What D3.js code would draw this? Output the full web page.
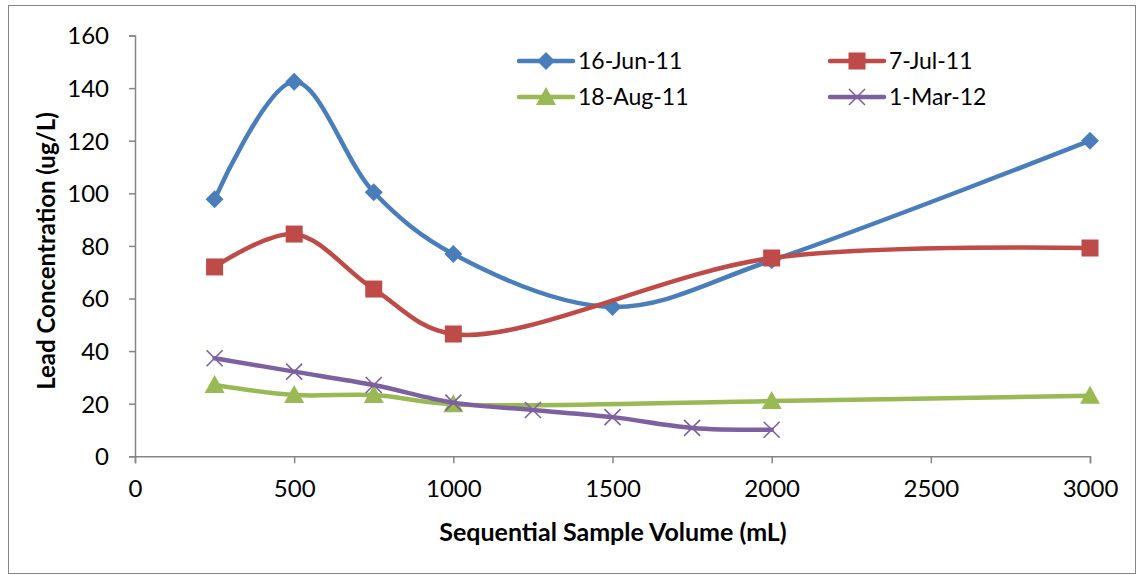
<!DOCTYPE html>
<html>
<head>
<meta charset="utf-8">
<script src="https://cdn.jsdelivr.net/npm/d3@7"></script>
<style>
  body { margin: 0; background: #fff; }
  text { font-family: Lato, "Open Sans", sans-serif; fill: #000; }
</style>
</head>
<body>
<script>
var w = 1138;
var h = 575;

// data
var seriesNames = ["16-Jun-11", "7-Jul-11", "18-Aug-11", "1-Mar-12"];
var junX = [250, 500, 750, 1000, 1500, 2000, 3000];
var junY = [97.7, 142.4, 100.4, 76.9, 56.8, 74.5, 120];
var julX = [250, 500, 750, 1000, 2000, 3000];
var julY = [72, 84.5, 63.6, 46.5, 75.4, 79.2];
var augX = [250, 500, 750, 1000, 2000, 3000];
var augY = [27.1, 23.3, 23.3, 19.8, 21, 23];
var marX = [250, 500, 750, 1000, 1250, 1500, 1750, 2000];
var marY = [37.3, 32.2, 27.1, 20.4, 17.6, 14.9, 10.8, 10.1];
var xTicks = [0, 500, 1000, 1500, 2000, 2500, 3000];
var yTicks = [0, 20, 40, 60, 80, 100, 120, 140, 160];

var colors = ["#4a7ebb", "#be4b48", "#98b954", "#7d60a0"];
var markers = ["diamond", "square", "triangle", "cross"];

var series = [
  { name: seriesNames[0], xs: junX, ys: junY },
  { name: seriesNames[1], xs: julX, ys: julY },
  { name: seriesNames[2], xs: augX, ys: augY },
  { name: seriesNames[3], xs: marX, ys: marY }
];

var x = d3.scaleLinear().domain([0, 3000]).range([135, 1090]);
var y = d3.scaleLinear().domain([0, 160]).range([456.3, 35.5]);

var svg = d3.select("body").append("svg")
  .attr("width", w)
  .attr("height", h);

// outer frame
svg.append("rect")
  .attr("x", 8.5).attr("y", 5.5)
  .attr("width", 1127).attr("height", 568)
  .attr("fill", "none")
  .attr("stroke", "#868686");

// axes
var yAxis = svg.append("g")
  .attr("transform", "translate(" + x(0) + ",0)")
  .call(d3.axisLeft(y).tickValues(yTicks).tickSize(6).tickPadding(20).tickFormat(d3.format("d")));
var xAxis = svg.append("g")
  .attr("transform", "translate(0," + y(0) + ")")
  .call(d3.axisBottom(x).tickValues(xTicks).tickSize(7).tickPadding(17).tickFormat(d3.format("d")));

[yAxis, xAxis].forEach(function (g) {
  g.select(".domain").attr("stroke", "#868686").attr("stroke-width", 1.5);
  g.selectAll(".tick line").attr("stroke", "#868686").attr("stroke-width", 1.5);
  g.selectAll(".tick text")
    .style("font-size", "24px")
    .style("font-family", "Lato, 'Open Sans', sans-serif")
    .attr("fill", "#000");
});
yAxis.selectAll(".tick text").attr("dy", "0.35em");

// axis titles
svg.append("text")
  .attr("transform", "translate(55,251) rotate(-90)")
  .attr("text-anchor", "middle")
  .style("font-size", "24px")
  .style("font-weight", "bold")
  .text("Lead Concentration (ug/L)");

svg.append("text")
  .attr("x", 613).attr("y", 541)
  .attr("text-anchor", "middle")
  .style("font-size", "25px")
  .style("font-weight", "bold")
  .text("Sequential Sample Volume (mL)");

// smoothed lines, like excel
var line = d3.line()
  .x(d => x(d[0]))
  .y(d => y(d[1]))
  .curve(d3.curveCatmullRom.alpha(0.5));

function drawMarker(g, kind, color, cx, cy) {
  if (kind === "diamond") {
    g.append("path")
      .attr("d", "M" + cx + "," + (cy - 9) + "L" + (cx + 9) + "," + cy + "L" + cx + "," + (cy + 9) + "L" + (cx - 9) + "," + cy + "Z")
      .attr("fill", color);
  } else if (kind === "square") {
    g.append("rect")
      .attr("x", cx - 8.5).attr("y", cy - 8.5)
      .attr("width", 17).attr("height", 17)
      .attr("fill", color);
  } else if (kind === "triangle") {
    g.append("path")
      .attr("d", "M" + cx + "," + (cy - 10) + "L" + (cx + 10) + "," + (cy + 8) + "L" + (cx - 10) + "," + (cy + 8) + "Z")
      .attr("fill", color);
  } else {
    g.append("path")
      .attr("d", "M" + (cx - 8) + "," + (cy - 8) + "L" + (cx + 8) + "," + (cy + 8) + "M" + (cx + 8) + "," + (cy - 8) + "L" + (cx - 8) + "," + (cy + 8))
      .attr("stroke", color)
      .attr("stroke-width", 1.6)
      .attr("fill", "none");
  }
}

series.forEach(function (s, i) {
  var pts = s.xs.map((v, j) => [v, s.ys[j]]);
  var g = svg.append("g");
  g.append("path")
    .datum(pts)
    .attr("d", line)
    .attr("fill", "none")
    .attr("stroke", colors[i])
    .attr("stroke-width", 4.5)
    .attr("stroke-linecap", "round");
  pts.forEach(function (p) {
    drawMarker(g, markers[i], colors[i], x(p[0]), y(p[1]));
  });
});

// legend
var legendPos = [[519, 61], [830, 61], [519, 97], [830, 97]];
series.forEach(function (s, i) {
  var lx = legendPos[i][0], ly = legendPos[i][1];
  var g = svg.append("g");
  g.append("line")
    .attr("x1", lx).attr("x2", lx + 54)
    .attr("y1", ly).attr("y2", ly)
    .attr("stroke", colors[i])
    .attr("stroke-width", 4.5)
    .attr("stroke-linecap", "round");
  drawMarker(g, markers[i], colors[i], lx + 27, ly);
  g.append("text")
    .attr("x", lx + 59).attr("y", ly)
    .attr("dy", "0.35em")
    .style("font-size", "23px")
    .text(s.name);
});
</script>
</body>
</html>
